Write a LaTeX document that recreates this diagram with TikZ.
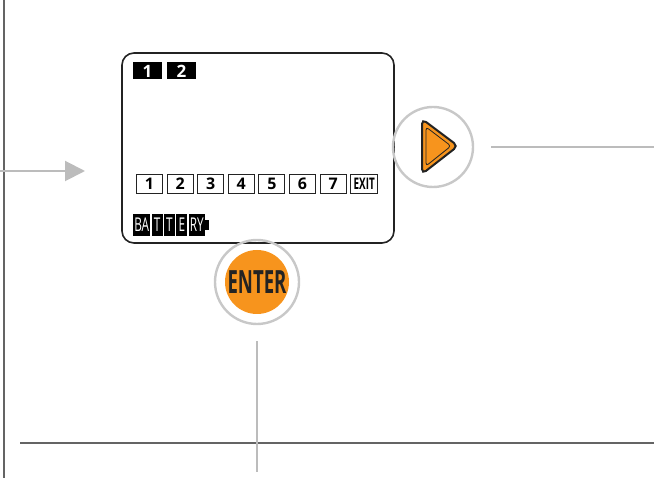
\documentclass[tikz,border=0pt]{standalone}
\usepackage{fontspec}
\setmainfont{Open Sans}
\newfontfamily\narrowfont{Open Sans}[FakeStretch=0.62]
\newfontfamily\enterfont{Open Sans}[FakeStretch=0.58]
\usetikzlibrary{arrows.meta,positioning}
\definecolor{btnorange}{RGB}{247,148,29}
\definecolor{ringgray}{RGB}{200,200,200}
\definecolor{leadgray}{RGB}{188,188,188}
\definecolor{framegray}{RGB}{100,100,100}
\definecolor{inkdark}{RGB}{35,35,35}
\tikzset{
  %% LCD frame
  lcd/.style={rectangle,rounded corners=12pt,draw=inkdark,line width=1.6pt,
    fill=white,minimum width=272pt,minimum height=190pt},
  %% black page tiles at top of LCD
  tile/.style={rectangle,fill=black,text=white,minimum width=29pt,
    minimum height=17pt,inner sep=0pt,font=\fontsize{17}{17}\selectfont\bfseries},
  %% outlined menu keys
  key/.style={rectangle,draw=inkdark,line width=0.9pt,minimum width=26pt,
    minimum height=19pt,inner sep=0pt,font=\fontsize{16}{16}\selectfont\bfseries},
  %% battery gauge segments
  batseg/.style={rectangle,fill=black,text=white,minimum height=22pt,
    inner sep=0pt,font=\narrowfont\fontsize{19}{19}\selectfont},
  %% button rings
  ring/.style={circle,draw=ringgray,line width=2.4pt,minimum size=#1,inner sep=0pt},
  %% leader lines
  lead/.style={draw=leadgray,line width=2pt},
  frame/.style={draw=framegray,line width=1.6pt},
}
\begin{document}
\begin{tikzpicture}[x=1pt,y=-1pt]
  \useasboundingbox (0,0) rectangle (654,478);

  %% outer frame lines
  \coordinate (ftop) at (4,0);
  \coordinate (fbot) at (4,478);
  \coordinate (baseL) at (20,443);
  \coordinate (baseR) at (654,443);
  \draw[frame] (ftop) -- (fbot);
  \draw[frame] (baseL) -- (baseR);

  %% LCD
  \node[lcd] (lcd) at (258,148) {};

  %% page tiles
  \node[tile] (t1) at (147.5,71) {1};
  \node[tile,right=4.5pt of t1] (t2) {2};

  %% menu keys
  \node[key] (k1) at (149.5,183.5) {1};
  \node[key,right=3.7pt of k1] (k2) {2};
  \node[key,right=3.7pt of k2] (k3) {3};
  \node[key,right=3.7pt of k3] (k4) {4};
  \node[key,right=3.7pt of k4] (k5) {5};
  \node[key,right=3.7pt of k5] (k6) {6};
  \node[key,right=3.7pt of k6] (k7) {7};
  \node[key,right=3.7pt of k7,minimum width=27pt,
    font=\narrowfont\fontsize{16}{16}\selectfont\bfseries] (kexit) {EXIT};

  %% battery gauge
  \node[batseg,minimum width=17pt,anchor=west] (b1) at (133,225) {BA};
  \node[batseg,minimum width=11pt,right=1pt of b1] (b2) {T};
  \node[batseg,minimum width=11pt,right=1pt of b2] (b3) {T};
  \node[batseg,minimum width=11pt,right=1pt of b3] (b4) {E};
  \node[batseg,minimum width=16pt,right=1pt of b4] (b5) {RY};
  \node[rectangle,fill=black,minimum width=4pt,minimum height=10pt,
    inner sep=0pt,right=0pt of b5] (btab) {};

  %% next button
  \node[ring=80pt] (next) at (433,147) {};
  \draw[fill=btnorange,draw=inkdark,line width=2pt,rounded corners=5pt]
    ([shift={(-11,-28)}]next.center) -- ([shift={(25,-1)}]next.center)
    -- ([shift={(-11,27)}]next.center) -- cycle;
  \draw[draw=inkdark,line width=0.8pt,rounded corners=3pt]
    ([shift={(-7,-20)}]next.center) -- ([shift={(18,-1)}]next.center)
    -- ([shift={(-7,19)}]next.center) -- cycle;

  %% enter button
  \node[ring=84pt] (enter) at (257,282) {};
  \node[circle,fill=btnorange,minimum size=64pt,inner sep=0pt,text=inkdark,
    font=\enterfont\fontsize{32}{32}\selectfont\bfseries] (enterbtn) at (enter) {ENTER};

  %% leaders
  \coordinate (inL) at (0,171);
  \coordinate (inR) at (85,171);
  \draw[lead,-{Triangle[length=20pt,width=20pt]}] (inL) -- (inR);
  \coordinate (nextR) at (654,147);
  \draw[lead] ([xshift=17pt]next.east) -- (nextR);
  \coordinate (enterB) at (257,472);
  \draw[lead] ([yshift=-16pt]enter.south) -- (enterB);

\end{tikzpicture}
\end{document}
